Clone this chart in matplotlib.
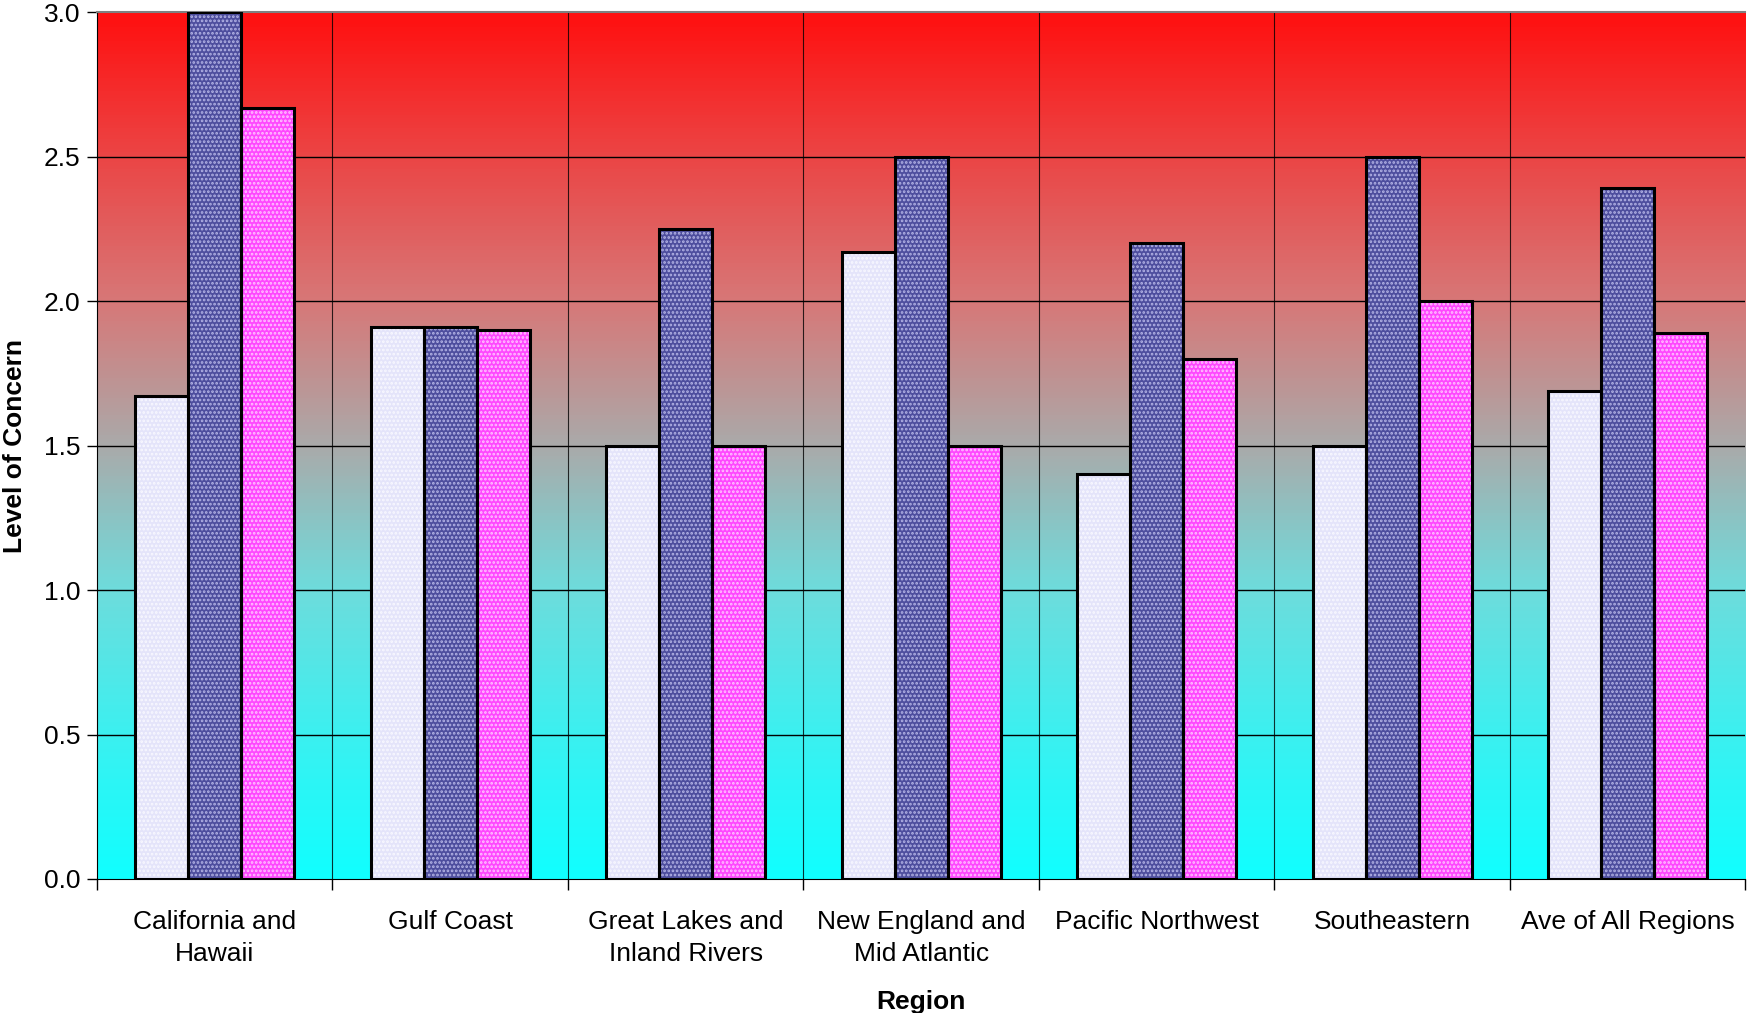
import numpy as np
import matplotlib.pyplot as plt
from matplotlib.colors import LinearSegmentedColormap

# data
regions = ["California and\nHawaii", "Gulf Coast", "Great Lakes and\nInland Rivers",
           "New England and\nMid Atlantic", "Pacific Northwest", "Southeastern",
           "Ave of All Regions"]
series_a = [1.67, 1.91, 1.50, 2.17, 1.40, 1.50, 1.69]
series_b = [3.00, 1.91, 2.25, 2.50, 2.20, 2.50, 2.39]
series_c = [2.67, 1.90, 1.50, 1.50, 1.80, 2.00, 1.89]

face_colors = ["#e4e4fa", "#4e4e9e", "#ff48ff"]
dot_colors = ["#f8f8ff", "#b4b4e6", "#ffc4ff"]

# background gradient stops (bottom -> top)
grad_colors = ["#10ffff", "#3cf0f0", "#6edcdc", "#aaaaaa", "#d77878", "#eb4646", "#ff1010"]

plt.rcParams['font.family'] = ['Liberation Sans', 'DejaVu Sans']
plt.rcParams['hatch.linewidth'] = 1.3

fig = plt.figure(figsize=(17.47, 10.13), dpi=100)
ax = fig.add_axes([0.0555, 0.1323, 0.9435, 0.8557])

n = len(regions)
x = np.arange(n)
ymax = 3.0

# gradient fill of the plot area
cmap = LinearSegmentedColormap.from_list("bg", grad_colors)
grad = np.linspace(0, 1, 256).reshape(-1, 1)
ax.imshow(grad, extent=(-0.5, n - 0.5, 0, ymax), origin="lower", aspect="auto",
          cmap=cmap, zorder=0, interpolation="bilinear")

# gridlines
for yv in np.arange(0.5, ymax, 0.5):
    ax.axhline(yv, color="black", lw=1.0, zorder=1)
for b in np.arange(0.5, n - 0.5, 1):
    ax.axvline(b, color="black", lw=0.8, alpha=0.8, zorder=1)

w = 0.225
for i, vals in enumerate([series_a, series_b, series_c]):
    pos = x + (i - 1) * w
    ax.bar(pos, vals, width=w, color=face_colors[i], edgecolor=dot_colors[i],
           hatch="....", linewidth=0, zorder=2)
    ax.bar(pos, vals, width=w, fill=False, edgecolor="black", linewidth=2.2, zorder=3)

ax.set_xlim(-0.5, n - 0.5)
ax.set_ylim(0, ymax)
ax.set_yticks(np.arange(0, 3.01, 0.5))
ax.set_yticklabels([f"{v:.1f}" for v in np.arange(0, 3.01, 0.5)], fontsize=19)
ax.tick_params(axis="y", length=7, width=1, direction="out", pad=5)

ax.set_xticks(np.arange(-0.5, n, 1))
ax.set_xticklabels([])
ax.tick_params(axis="x", which="major", length=8, width=1, direction="out")
ax.set_xticks(x, minor=True)
ax.set_xticklabels(regions, minor=True, fontsize=19, linespacing=1.45)
ax.tick_params(axis="x", which="minor", length=0, pad=22)

ax.set_ylabel("Level of Concern", fontsize=19, fontweight="bold", labelpad=12)
ax.set_xlabel("Region", fontsize=19, fontweight="bold", labelpad=17)

ax.spines["right"].set_visible(False)
ax.spines["top"].set_color("#808080")
ax.spines["top"].set_linewidth(1.5)
ax.spines["left"].set_color("black")
ax.spines["bottom"].set_color("black")

fig.savefig("out.png", dpi=100)
